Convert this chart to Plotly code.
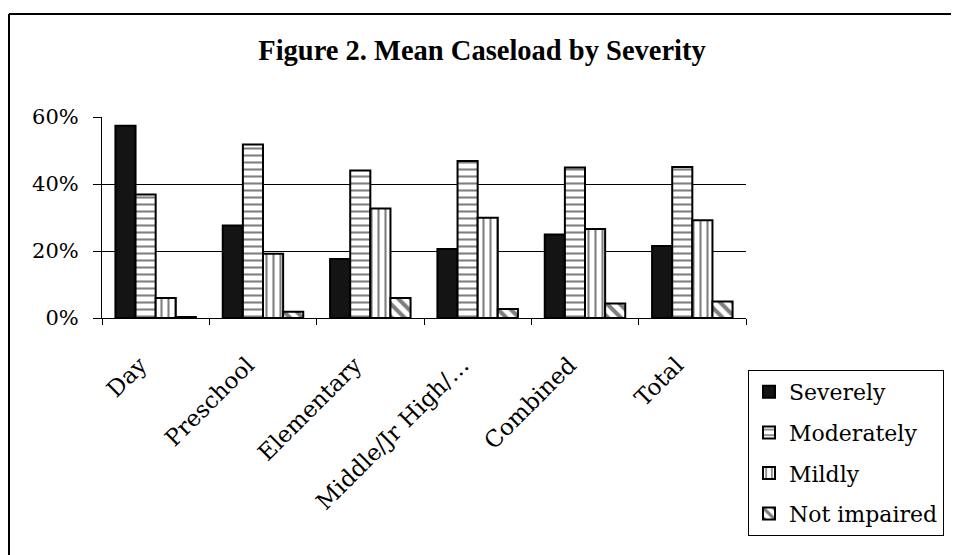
import plotly.graph_objects as go

categories = ["Day", "Preschool", "Elementary", "Middle/Jr High/…", "Combined", "Total"]
severely = [57.4, 27.6, 17.6, 20.6, 24.9, 21.5]
moderately = [36.9, 51.8, 44.0, 46.9, 44.9, 45.1]
mildly = [6.0, 19.2, 32.7, 29.9, 26.6, 29.2]
not_impaired = [0.3, 1.9, 6.0, 2.7, 4.3, 4.9]
y_ticks = [0, 20, 40, 60]
y_tick_labels = ["0%", "20%", "40%", "60%"]

SERIF = "DejaVu Serif, serif"
TITLE_SERIF = "Liberation Serif, Times New Roman, serif"

# page offset of the figure inside the browser page (default body margin)
OFF = 8

fig = go.Figure()

series = [
    ("Severely", severely, dict(color="#141414")),
    ("Moderately", moderately, dict(color="white", pattern=dict(shape="-", size=7, solidity=0.3, fgcolor="black", bgcolor="white"))),
    ("Mildly", mildly, dict(color="white", pattern=dict(shape="|", size=7, solidity=0.3, fgcolor="black", bgcolor="white"))),
    ("Not impaired", not_impaired, dict(color="white", pattern=dict(shape="\\", size=9, solidity=0.45, fgcolor="black", bgcolor="white"))),
]
for i, (name, vals, mk) in enumerate(series):
    mk = dict(mk)
    mk["line"] = dict(color="black", width=2)
    fig.add_trace(go.Bar(x=categories, y=vals, name=name, marker=mk, legendgroup=f"g{i}"))

# trailing spaces nudge the rotated labels down-left, like the original
x_tick_text = [c + "\u00a0" * 3 for c in categories]

bx0 = (9 - 102) / 644
by1 = (318 - 14) / 201

fig.update_layout(
    width=959, height=555,
    margin=dict(l=102 - OFF, r=959 - (746 - OFF), t=117 - OFF, b=555 - (318 - OFF), autoexpand=False),
    paper_bgcolor="white", plot_bgcolor="white",
    barmode="group", bargap=0.25, bargroupgap=0,
    font=dict(family=SERIF, color="black", size=20),
    title=dict(text="<b>Figure 2. Mean Caseload by Severity</b>", x=(482 - OFF)/959, xanchor="center",
               y=1 - (50 - OFF)/555, yanchor="middle", font=dict(size=28.5, family=TITLE_SERIF)),
    showlegend=True,
    legend=dict(x=(748-102)/644, xanchor="left", y=(318-370)/201, yanchor="top",
                bordercolor="black", borderwidth=1, bgcolor="white",
                font=dict(size=22, family=SERIF), tracegroupgap=9,
                traceorder="grouped", itemwidth=30),
    xaxis=dict(tickangle=-45, showline=True, linecolor="black", linewidth=1,
               ticks="outside", ticklen=6, tickcolor="black", tickson="boundaries",
               tickmode="array", tickvals=categories, ticktext=x_tick_text,
               tickfont=dict(size=23, family=SERIF), showgrid=False,
               ticklabelstandoff=8),
    yaxis=dict(range=[0, 60], tickvals=y_ticks, ticktext=y_tick_labels,
               showline=True, linecolor="black", linewidth=1,
               ticks="outside", ticklen=8, tickcolor="black",
               showgrid=True, gridcolor="black", gridwidth=1,
               tickfont=dict(size=21, family=SERIF), zeroline=False,
               ticklabelstandoff=10),
    shapes=[
        dict(type="line", xref="paper", yref="paper", x0=bx0, x1=(1200-102)/644, y0=by1, y1=by1,
             line=dict(color="black", width=2), layer="below"),
        dict(type="line", xref="paper", yref="paper", x0=bx0, x1=bx0, y0=by1, y1=(318-800)/201,
             line=dict(color="black", width=2), layer="below"),
    ],
)

fig.write_html("out.html")
